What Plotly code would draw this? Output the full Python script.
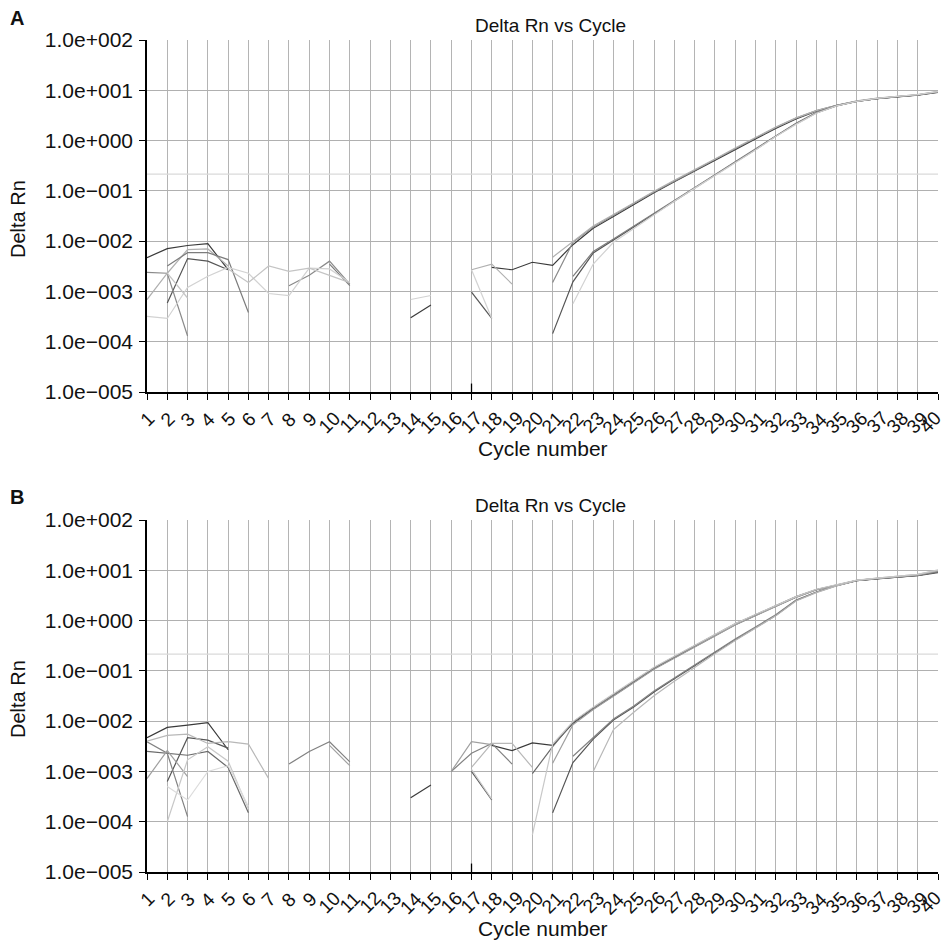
import plotly.graph_objects as go
from plotly.subplots import make_subplots

N = None
cycles = list(range(1, 41))
cycle_labels = [str(c) for c in cycles]
ytick_vals = [1e-5, 1e-4, 1e-3, 1e-2, 1e-1, 1e0, 1e1, 1e2]
ytick_text = ["1.0e\u2212005", "1.0e\u2212004", "1.0e\u2212003", "1.0e\u2212002",
              "1.0e\u2212001", "1.0e+000", "1.0e+001", "1.0e+002"]
threshold_A = 0.215
threshold_B = 0.216
marker_cycle = 17

# ---------------- Panel A (Delta Rn per cycle, None = not plottable) ----------------
A1 = [4.7e-3, 7.1e-3, 8.2e-3, 8.9e-3, 2.7e-3, N, N, N, N, N,
      N, N, N, 3.0e-4, 5.4e-4, N, N, 3.0e-3, 2.7e-3, 3.8e-3,
      3.3e-3, 8.5e-3, 1.8e-2, 3.1e-2, 5.4e-2, 9.2e-2, 0.152, 0.245, 0.40, 0.66,
      1.08, 1.75, 2.7, 3.85, 4.95, 6.0, 6.8, 7.4, 8.0, 9.1]
A2 = [N, 5.9e-4, 4.5e-3, 4.0e-3, 2.7e-3, N, N, N, N, N,
      N, N, N, N, N, N, 9.7e-4, 2.9e-4, N, N,
      1.45e-4, 1.55e-3, 5.8e-3, 1.05e-2, 1.95e-2, 3.5e-2, 6.4e-2, 0.115, 0.205, 0.37,
      0.66, 1.22, 2.15, 3.55, 4.9, 6.0, 6.8, 7.5, 8.1, 9.3]
A3 = [2.4e-3, 2.3e-3, 1.3e-4, N, N, N, N, 1.3e-3, 2.1e-3, 4.0e-3,
      1.4e-3, N, N, N, N, N, N, N, N, N,
      1.5e-3, 9.5e-3, 1.9e-2, 3.3e-2, 5.6e-2, 9.5e-2, 0.158, 0.255, 0.42, 0.69,
      1.12, 1.82, 2.8, 3.95, 5.0, 6.1, 6.9, 7.5, 8.1, 9.3]
A4 = [6.9e-4, 2.3e-3, 6.8e-3, 7.0e-3, 3.2e-3, N, N, N, N, N,
      N, N, N, N, N, N, 2.7e-3, 3.5e-3, 1.4e-3, N,
      4.8e-3, 1.0e-2, 2.0e-2, 3.4e-2, 5.8e-2, 9.8e-2, 0.162, 0.26, 0.43, 0.71,
      1.15, 1.85, 2.82, 3.95, 5.05, 6.15, 7.0, 7.6, 8.2, 9.5]
A5 = [N, 3.2e-3, 5.9e-3, 5.9e-3, 4.3e-3, 3.8e-4, N, N, N, 3.5e-3,
      1.3e-3, N, N, N, N, N, N, N, N, N,
      N, 2.0e-3, 6.2e-3, 1.1e-2, 2.0e-2, 3.6e-2, 6.6e-2, 0.118, 0.21, 0.38,
      0.68, 1.25, 2.2, 3.6, 5.0, 6.05, 6.85, 7.45, 8.05, 9.2]
A6 = [3.2e-4, 2.9e-4, 1.2e-3, 2.0e-3, 3.0e-3, 2.3e-3, 9.1e-4, 8.3e-4, 2.9e-3, 2.8e-3,
      1.5e-3, N, N, 6.9e-4, 8.3e-4, N, 2.7e-3, 2.9e-4, N, N,
      N, 5.7e-4, 3.5e-3, 9.5e-3, 1.8e-2, 3.3e-2, 6.2e-2, 0.112, 0.20, 0.365,
      0.65, 1.2, 2.1, 3.5, 4.9, 6.0, 6.9, 7.6, 8.2, 9.4]
A7 = [N, 2.3e-3, 7.4e-4, N, 2.8e-3, 1.5e-3, 3.2e-3, 2.5e-3, 2.9e-3, 2.1e-3,
      1.5e-3, N, N, N, N, N, N, N, N, N,
      N, N, N, N, N, N, N, N, N, N,
      N, N, N, N, N, N, N, N, N, N]

# ---------------- Panel B ----------------
B1 = [4.7e-3, 7.5e-3, 8.3e-3, 9.3e-3, 2.7e-3, N, N, N, N, N,
      N, N, N, 3.0e-4, 5.4e-4, N, N, 3.3e-3, 2.6e-3, 3.7e-3,
      3.3e-3, 9.0e-3, 1.75e-2, 3.2e-2, 6.0e-2, 0.11, 0.182, 0.30, 0.50, 0.83,
      1.27, 1.9, 2.92, 4.1, 4.95, 6.2, 6.75, 7.3, 7.9, 9.3]
B2 = [N, 6.3e-4, 4.7e-3, 4.2e-3, 2.9e-3, N, N, N, N, N,
      N, N, N, N, N, N, 1.0e-3, 2.7e-4, N, N,
      1.5e-4, 1.5e-3, 4.4e-3, 1.05e-2, 1.9e-2, 3.8e-2, 7.0e-2, 0.128, 0.23, 0.41,
      0.72, 1.26, 2.5, 3.65, 4.95, 6.2, 6.8, 7.3, 7.8, 9.0]
B3 = [2.5e-3, 2.3e-3, 2.1e-3, 2.5e-3, 1.2e-3, 1.5e-4, N, N, N, N,
      N, N, N, N, N, N, N, N, N, 9.0e-4,
      3.1e-3, 9.5e-3, 1.85e-2, 3.4e-2, 6.2e-2, 0.115, 0.19, 0.315, 0.52, 0.86,
      1.3, 1.95, 3.0, 4.15, 5.05, 6.3, 6.85, 7.4, 8.0, 9.5]
B4 = [3.9e-3, 2.3e-3, 1.26e-4, N, N, N, N, 1.4e-3, 2.5e-3, 3.9e-3,
      1.55e-3, N, N, N, N, 1.0e-3, 2.3e-3, 3.6e-3, 1.4e-3, N,
      N, 2.0e-3, 4.8e-3, 1.1e-2, 2.0e-2, 4.0e-2, 7.2e-2, 0.133, 0.238, 0.43,
      0.74, 1.3, 2.55, 3.7, 5.0, 6.3, 6.9, 7.4, 7.95, 9.4]
B5 = [7.2e-4, 2.6e-3, 7.9e-4, N, N, N, N, N, N, 3.3e-3,
      1.3e-3, N, N, N, N, 1.0e-3, 3.9e-3, 3.4e-3, N, N,
      1.45e-3, 8.5e-3, 1.7e-2, 3.1e-2, 5.8e-2, 0.108, 0.18, 0.30, 0.49, 0.82,
      1.25, 1.88, 2.9, 4.05, 4.95, 6.3, 6.9, 7.5, 8.1, 9.8]
B6 = [4.0e-3, 5.2e-3, 5.5e-3, 3.6e-3, 3.9e-3, 3.5e-3, 7.2e-4, N, N, N,
      N, N, N, N, N, N, 1.2e-3, 3.6e-3, 3.6e-3, 1.2e-3,
      N, N, 1.0e-3, 6.8e-3, 1.5e-2, 3.2e-2, 6.2e-2, 0.118, 0.22, 0.40,
      0.70, 1.24, 2.45, 3.6, 4.9, 6.3, 7.0, 7.6, 8.3, 10.0]
B7 = [N, 1.0e-4, 1.7e-3, 3.1e-3, 1.6e-3, 1.8e-4, N, N, N, N,
      N, N, N, N, N, N, 1.1e-3, 2.8e-4, N, 5.5e-5,
      3.5e-3, 9.8e-3, 1.9e-2, 3.5e-2, 6.4e-2, 0.118, 0.195, 0.32, 0.53, 0.87,
      1.32, 1.97, 3.0, 4.2, 5.1, 6.4, 7.0, 7.6, 8.3, 10.2]
B8 = [N, 5.0e-4, 2.7e-4, 1.0e-3, 1.3e-3, 2.0e-4, N, N, N, N,
      N, N, N, N, N, N, N, N, N, N,
      N, N, N, N, N, N, N, N, N, N,
      N, N, N, N, N, N, N, N, N, N]

curves_A = [A1, A2, A3, A4, A5, A6, A7]
colors_A = ["#3a3a3a", "#555555", "#8a8a8a", "#b0b0b0", "#7c7c7c", "#d2d2d2", "#c4c4c4"]
curves_B = [B1, B2, B3, B4, B5, B6, B7, B8]
colors_B = ["#3a3a3a", "#555555", "#6a6a6a", "#828282", "#a0a0a0", "#b8b8b8", "#c8c8c8", "#dcdcdc"]

FONT = "Liberation Sans, Arial, sans-serif"

fig = make_subplots(rows=2, cols=1, vertical_spacing=0.1538)

for row, curves, cols, thr in [(1, curves_A, colors_A, threshold_A),
                               (2, curves_B, colors_B, threshold_B)]:
    fig.add_trace(go.Scatter(x=[cycles[0], cycles[-1]], y=[thr, thr], mode="lines",
                             line=dict(color="#dadada", width=1.3), hoverinfo="skip",
                             showlegend=False), row=row, col=1)
    for vals, c in zip(curves, cols):
        fig.add_trace(go.Scatter(x=cycles, y=vals, mode="lines",
                                 line=dict(color=c, width=1.2), connectgaps=False,
                                 showlegend=False), row=row, col=1)

plot_h = 832
pw = 944 - 147 - 6
domA = [480 / plot_h, 1.0]
domB = [0.0, 352 / plot_h]

for i, dom in [(1, domA), (2, domB)]:
    xa = "xaxis" if i == 1 else "xaxis2"
    ya = "yaxis" if i == 1 else "yaxis2"
    xr = "x" if i == 1 else "x2"
    yd = "y domain" if i == 1 else "y2 domain"
    fig.layout[xa].update(
        range=[1, 40], tickmode="array", tickvals=cycles, showticklabels=False,
        ticks="outside", ticklen=6, tickcolor="#000", tickwidth=1,
        showline=True, linecolor="#000", linewidth=1.5, mirror=False,
        showgrid=True, gridcolor="#b4b4b4", gridwidth=1, zeroline=False,
        automargin=False,
    )
    fig.layout[ya].update(
        type="log", range=[-5, 2], domain=dom, tickmode="array", tickvals=ytick_vals,
        ticktext=ytick_text, ticks="outside", ticklen=6, tickcolor="#000", tickwidth=1,
        showline=True, linecolor="#000", linewidth=1.5,
        showgrid=True, gridcolor="#b0b0b0", gridwidth=1, zeroline=False,
        ticklabelstandoff=2, automargin=False,
        tickfont=dict(family=FONT, size=21, color="#111"),
    )
    # rotated cycle labels, centred under each tick (last one nudged inside the page)
    for c, lab in zip(cycles, cycle_labels):
        last = c == cycles[-1]
        fig.add_annotation(text=lab, x=c, xref=xr, y=0, yref=yd, showarrow=False,
                           textangle=-45, xanchor="center",
                           xshift=-8 if last else 0, yanchor="top", yshift=-13,
                           font=dict(family=FONT, size=19, color="#111"))
    # axis titles
    fig.add_annotation(text="Cycle number", x=0.5, xref="x domain" if i == 1 else "x2 domain",
                       y=0, yref=yd, yshift=-56, showarrow=False,
                       xanchor="center", yanchor="middle",
                       font=dict(family=FONT, size=21, color="#111"))
    fig.add_annotation(text="Delta Rn", x=(18 - 147) / pw, xref="paper",
                       y=0.5, yref=yd, yshift=-3, showarrow=False, textangle=-90,
                       xanchor="center", yanchor="middle",
                       font=dict(family=FONT, size=20, color="#111"))
    # small vertical mark at the baseline
    fig.add_shape(type="line", xref=xr, yref=yd,
                  x0=marker_cycle, x1=marker_cycle, y0=0, y1=0.024,
                  line=dict(color="#000", width=1.3))

for label, title_y, lab_y in [("A", 1 + 14 / plot_h, 1 + 22 / plot_h),
                              ("B", 367 / plot_h, 375 / plot_h)]:
    fig.add_annotation(text="Delta Rn vs Cycle", xref="paper", yref="paper",
                       x=(550 - 147) / pw, y=title_y, showarrow=False,
                       xanchor="center", yanchor="middle",
                       font=dict(family=FONT, size=19, color="#111"))
    fig.add_annotation(text="<b>" + label + "</b>", xref="paper", yref="paper",
                       x=(17 - 147) / pw, y=lab_y, showarrow=False,
                       xanchor="center", yanchor="middle",
                       font=dict(family=FONT, size=20, color="#111"))

fig.update_layout(
    width=944, height=940, autosize=False,
    margin=dict(l=147, r=6, t=40, b=68),
    plot_bgcolor="white", paper_bgcolor="white",
    showlegend=False,
)

fig.write_html("out.html")
